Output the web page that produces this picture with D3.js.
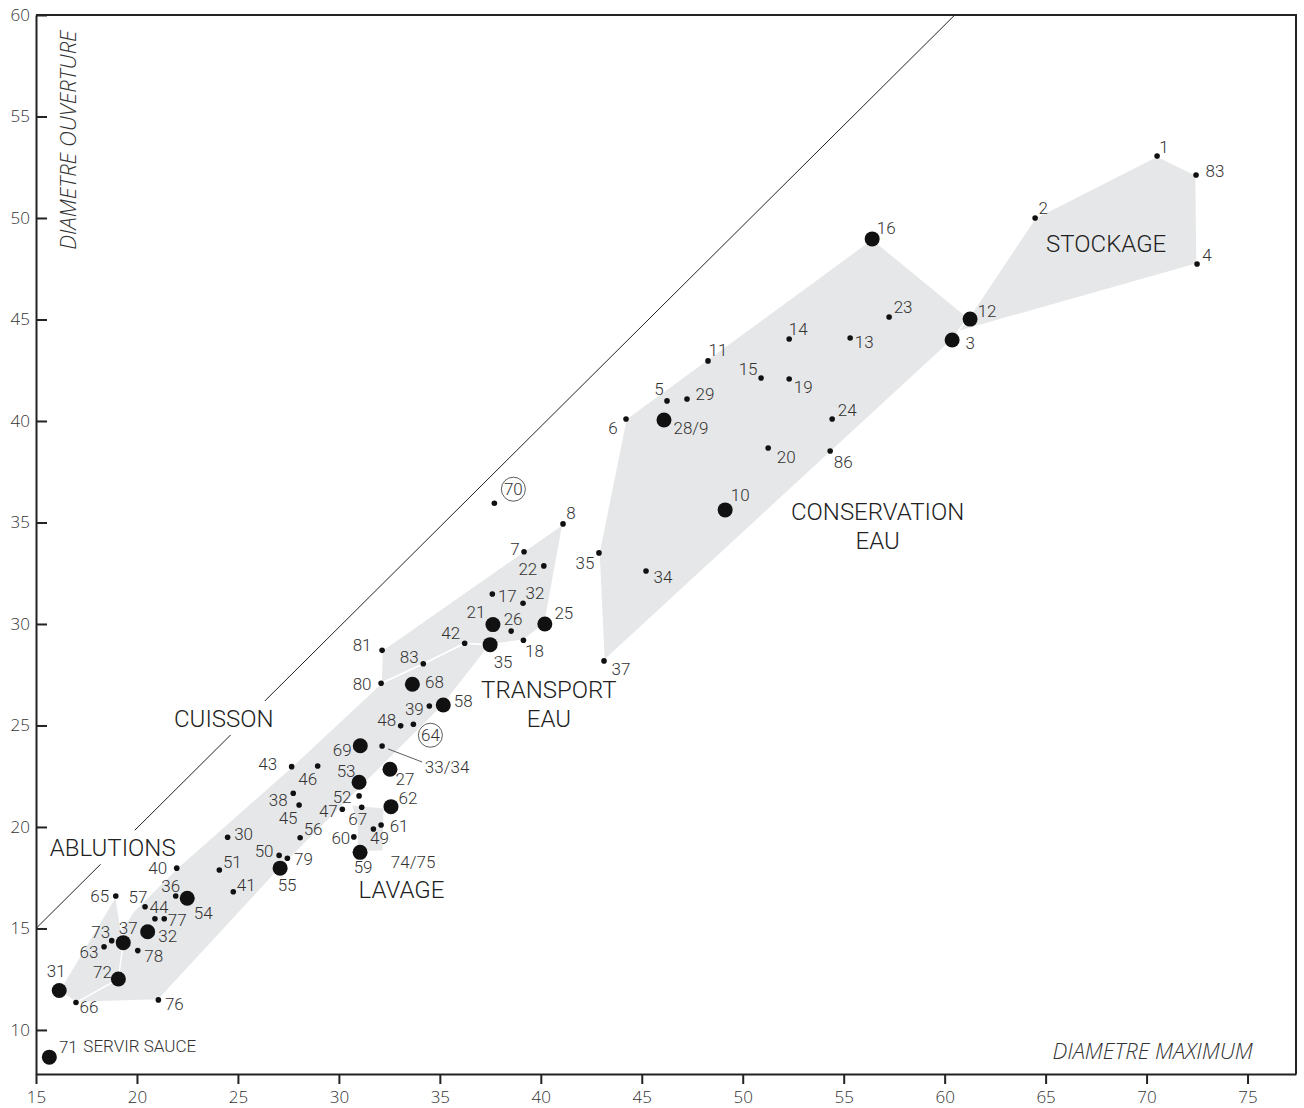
<!DOCTYPE html>
<html>
<head>
<meta charset="utf-8">
<script src="https://cdn.jsdelivr.net/npm/d3@7"></script>
<style>
  body { margin: 0; background: #fff; }
  .num { font-family: Roboto, "Liberation Sans", sans-serif; font-weight: 300; font-size: 17px; fill: #333; }
  .cat { font-family: Roboto, "Liberation Sans", sans-serif; font-weight: 300; font-size: 24px; fill: #222; }
  .tick text { font-family: "Open Sans", sans-serif; font-weight: 300; font-size: 17px; fill: #333; }
  .ttl { font-family: "Open Sans", sans-serif; font-weight: 300; font-style: italic; font-size: 22px; fill: #333; }
</style>
</head>
<body>
<svg id="chart" width="1304" height="1108"></svg>
<script>
// ---- data: [label, diametre maximum, diametre ouverture, big dot]
const stockage = [
  ["1", 70.52, 53.05, 0], ["83", 72.45, 52.12, 0], ["2", 64.48, 50.0, 0], ["4", 72.5, 47.73, 0]
];
const conservation = [
  ["16", 56.41, 48.97, 1], ["12", 61.26, 45.02, 1], ["3", 60.37, 43.99, 1],
  ["23", 57.25, 45.12, 0], ["14", 52.3, 44.04, 0], ["13", 55.32, 44.09, 0],
  ["11", 48.28, 42.96, 0], ["15", 50.91, 42.12, 0], ["19", 52.3, 42.07, 0],
  ["5", 46.25, 40.99, 0], ["29", 47.24, 41.08, 0], ["6", 44.22, 40.1, 0],
  ["28/9", 46.1, 40.05, 1], ["24", 54.43, 40.1, 0], ["20", 51.26, 38.67, 0],
  ["86", 54.33, 38.52, 0], ["10", 49.13, 35.62, 1], ["35", 42.88, 33.5, 0],
  ["34", 45.21, 32.61, 0], ["37", 43.13, 28.18, 0]
];
const transport = [
  ["8", 41.1, 34.93, 0], ["7", 39.17, 33.56, 0], ["22", 40.15, 32.86, 0],
  ["17", 37.6, 31.48, 0], ["32", 39.12, 31.02, 0], ["21", 37.63, 29.97, 1],
  ["26", 38.53, 29.65, 0], ["25", 40.2, 30.0, 1], ["42", 36.23, 29.05, 0],
  ["35", 37.49, 28.98, 1], ["18", 39.14, 29.2, 0], ["81", 32.14, 28.7, 0],
  ["83", 34.18, 28.04, 0], ["80", 32.09, 27.08, 0]
];
const cuisson = [
  ["68", 33.64, 27.03, 1], ["58", 35.17, 26.01, 1], ["39", 34.48, 25.96, 0],
  ["48", 33.06, 24.98, 0], ["64", 33.69, 25.06, 0], ["69", 31.06, 24.0, 1],
  ["33/34", 32.14, 23.99, 0], ["43", 27.66, 22.97, 0], ["46", 28.95, 23.0, 0],
  ["53", 31.0, 22.2, 1], ["27", 32.53, 22.84, 1], ["38", 27.74, 21.66, 0],
  ["45", 28.03, 21.08, 0], ["52", 31.0, 21.53, 0], ["47", 30.17, 20.87, 0],
  ["67", 31.13, 20.97, 0], ["62", 32.58, 21.0, 1], ["56", 28.08, 19.47, 0],
  ["61", 32.09, 20.1, 0], ["49", 31.71, 19.9, 0], ["60", 30.74, 19.51, 0],
  ["59", 31.05, 18.75, 1], ["30", 24.49, 19.49, 0], ["50", 27.04, 18.6, 0],
  ["79", 27.45, 18.46, 0], ["55", 27.09, 17.97, 1], ["51", 24.08, 17.88, 0],
  ["41", 24.77, 16.81, 0]
];
const ablutions = [
  ["40", 21.97, 17.97, 0], ["36", 21.92, 16.6, 0], ["54", 22.49, 16.49, 1],
  ["65", 18.95, 16.6, 0], ["57", 20.4, 16.07, 0], ["44", 20.89, 15.48, 0],
  ["77", 21.35, 15.48, 0], ["32", 20.53, 14.84, 1], ["37", 19.32, 14.3, 1],
  ["73", 18.75, 14.4, 0], ["63", 18.37, 14.1, 0], ["78", 20.04, 13.91, 0],
  ["72", 19.08, 12.51, 1], ["31", 16.15, 11.94, 1], ["66", 16.98, 11.35, 0],
  ["76", 21.06, 11.48, 0]
];
const isolated = [["70", 37.7, 35.95, 0], ["71", 15.66, 8.66, 1]];
const circled = ["70", "64"];

// ---- label placement (px offset from the dot)
const lblStockage = [[7,-9],[19,-4],[8,-10],[10,-9]];
const lblConservation = [[14,-11],[17,-8],[18,3],[14,-10],[9,-10],[14,4],[10,-11],[-13,-9],[14,8],
  [-8,-12],[18,-5],[-13,9],[27,8],[15,-9],[18,9],[13,11],[15,-15],[-14,10],[17,6],[17,8]];
const lblTransport = [[8,-11],[-9,-3],[-16,3],[15,2],[12,-10],[-17,-13],[2,-12],[19,-11],[-14,-10],
  [13,17],[11,11],[-20,-5],[-14,-7],[-19,1]];
const lblCuisson = [[22,-2],[20,-4],[-15,3],[-14,-6],[17,11],[-18,4],[65,21],[-24,-3],[-10,13],
  [-13,-11],[15,10],[-15,7],[-11,13],[-17,1],[-14,2],[-4,12],[17,-9],[13,-9],[18,1],[6,9],[-13,1],
  [3,15],[16,-3],[-15,-4],[16,1],[7,17],[13,-8],[13,-7]];
const lblAblutions = [[-19,0],[-5,-10],[16,15],[-16,0],[-7,-10],[4,-12],[13,1],[20,4],[5,-15],
  [-11,-9],[-15,5],[16,5],[-16,-7],[-3,-20],[13,5],[16,4]];
const lblIsolated = [[19,-14],[19,-10]];

// ---- grey zones (outline vertices, data units)
const zoneBand = [[16.98,11.35],[19.8,15.81],[21.97,17.97],[27.66,22.97],[32.09,27.08],[34.18,28.04],
  [36.23,29.05],[37.49,28.98],[35.17,26.01],[27.09,17.97],[21.06,11.48]];
const zoneAblutions = [[16.15,11.94],[18.95,16.6],[19.32,14.3],[19.08,12.51],[16.98,11.35]];
const zoneLavage = [[30.6,21.1],[32.25,20.95],[32.2,18.82],[30.9,18.78],[30.9,20.2]];
const zoneTransport = [[32.14,28.7],[41.1,34.93],[40.2,30.0],[39.14,29.2],[37.49,28.98],[36.23,29.05],
  [34.18,28.04],[32.09,27.08]];
const zoneConservation = [[43.13,28.18],[42.88,33.5],[44.22,40.1],[56.41,48.97],[61.26,45.02],[60.37,43.99]];
const zoneStockage = [[60.65,44.4],[61.2,45.1],[64.48,50.0],[70.52,53.05],[72.45,52.12],[72.5,47.73]];

const diagonal = [[15, 15], [60.5, 60]];
const xTicks = d3.range(15, 80, 5);
const yTicks = d3.range(10, 65, 5);

const zoneNames = [
  ["STOCKAGE", 68.0, 48.72], ["CONSERVATION|EAU", 56.68, 35.52], ["TRANSPORT|EAU", 40.4, 26.75],
  ["CUISSON", 24.3, 25.32], ["ABLUTIONS", 18.8, 18.95], ["LAVAGE", 33.1, 16.87]
];

// ---- chart
const svg = d3.select('#chart');
const x = d3.scaleLinear().domain([15, 77.4]).range([36, 1296]);
const y = d3.scaleLinear().domain([7.83, 60]).range([1074, 15]);

// zones
const zones = [zoneBand, zoneAblutions, zoneLavage, zoneTransport, zoneConservation, zoneStockage];
svg.append('g').selectAll('path').data(zones).join('path')
  .attr('d', d => d3.line().x(p => x(p[0])).y(p => y(p[1]))(d) + 'Z')
  .attr('fill', '#e6e7e8')
  .attr('stroke', '#fff')
  .attr('stroke-width', 1.5)
  .attr('stroke-linejoin', 'round');

// diagonal reference line
svg.append('line')
  .attr('x1', x(diagonal[0][0])).attr('y1', y(diagonal[0][1]))
  .attr('x2', x(diagonal[1][0])).attr('y2', y(diagonal[1][1]))
  .attr('stroke', '#222').attr('stroke-width', 1);

// frame
svg.append('path')
  .attr('d', `M${x(15)},${y(60)}H${x(77.4)}V${y(7.83)}`)
  .attr('fill', 'none').attr('stroke', '#222').attr('stroke-width', 2);

// axes
const gx = svg.append('g').attr('transform', `translate(0,${y(7.83)})`)
  .call(d3.axisBottom(x).tickValues(xTicks).tickSize(10).tickSizeOuter(0).tickPadding(7));
const gy = svg.append('g').attr('transform', `translate(${x(15)},0)`)
  .call(d3.axisLeft(y).tickValues(yTicks).tickSize(-11).tickSizeOuter(0).tickPadding(6));
[gx, gy].forEach(g => {
  g.select('.domain').attr('stroke', '#222').attr('stroke-width', 2);
  g.selectAll('.tick line').attr('stroke', '#222').attr('stroke-width', 2);
});

// axis titles
svg.append('text').attr('class', 'ttl')
  .attr('transform', 'translate(76,140) rotate(-90)')
  .attr('text-anchor', 'middle').text('DIAMETRE OUVERTURE');
svg.append('text').attr('class', 'ttl')
  .attr('x', x(70.3)).attr('y', y(8.55)).attr('text-anchor', 'middle').text('DIAMETRE MAXIMUM');

// zone names (white box hides diagonal behind CUISSON / ABLUTIONS)
const nameG = svg.append('g');
zoneNames.forEach(([txt, vx, vy]) => {
  const parts = txt.split('|');
  const t = nameG.append('text').attr('class', 'cat')
    .attr('x', x(vx)).attr('y', y(vy)).attr('text-anchor', 'middle');
  parts.forEach((p, i) => t.append('tspan').attr('x', x(vx)).attr('dy', i ? 29 : 8).text(p));
  if (txt === 'CUISSON' || txt === 'ABLUTIONS') {
    const b = t.node().getBBox();
    nameG.insert('rect', 'text').attr('x', b.x - 6).attr('y', b.y - 4)
      .attr('width', b.width + 12).attr('height', b.height + 6).attr('fill', '#fff');
  }
});

// dots and numbers
const groups = [
  [stockage, lblStockage], [conservation, lblConservation], [transport, lblTransport],
  [cuisson, lblCuisson], [ablutions, lblAblutions], [isolated, lblIsolated]
];
const dotG = svg.append('g');
groups.forEach(([pts, lbl]) => {
  pts.forEach((d, i) => {
    const cx = x(d[1]), cy = y(d[2]);
    const [dx, dy] = lbl[i];
    dotG.append('circle').attr('cx', cx).attr('cy', cy)
      .attr('r', d[3] ? 7.5 : 2.8).attr('fill', '#111');
    const isCirc = circled.includes(d[0]) && (pts === isolated || pts === cuisson);
    if (isCirc) {
      dotG.append('circle').attr('cx', cx + dx).attr('cy', cy + dy).attr('r', 12)
        .attr('fill', '#fff').attr('stroke', '#333').attr('stroke-width', 0.8);
    }
    if (d[0] === '33/34') {
      dotG.append('line').attr('x1', cx + 6).attr('y1', cy + 3)
        .attr('x2', cx + 40).attr('y2', cy + 16).attr('stroke', '#333').attr('stroke-width', 0.8);
    }
    dotG.append('text').attr('class', 'num')
      .attr('x', cx + dx).attr('y', cy + dy).attr('dy', '0.35em')
      .attr('text-anchor', 'middle').text(d[0]);
  });
});

// extra annotations
const p59 = cuisson.find(d => d[0] === '59');
dotG.append('text').attr('class', 'num').attr('text-anchor', 'middle').attr('dy', '0.35em')
  .attr('x', x(p59[1]) + 53).attr('y', y(p59[2]) + 10).text('74/75');
const p71 = isolated.find(d => d[0] === '71');
dotG.append('text').attr('class', 'num').attr('dy', '0.35em')
  .attr('x', x(p71[1]) + 34).attr('y', y(p71[2]) - 11).text('SERVIR SAUCE');
</script>
</body>
</html>
